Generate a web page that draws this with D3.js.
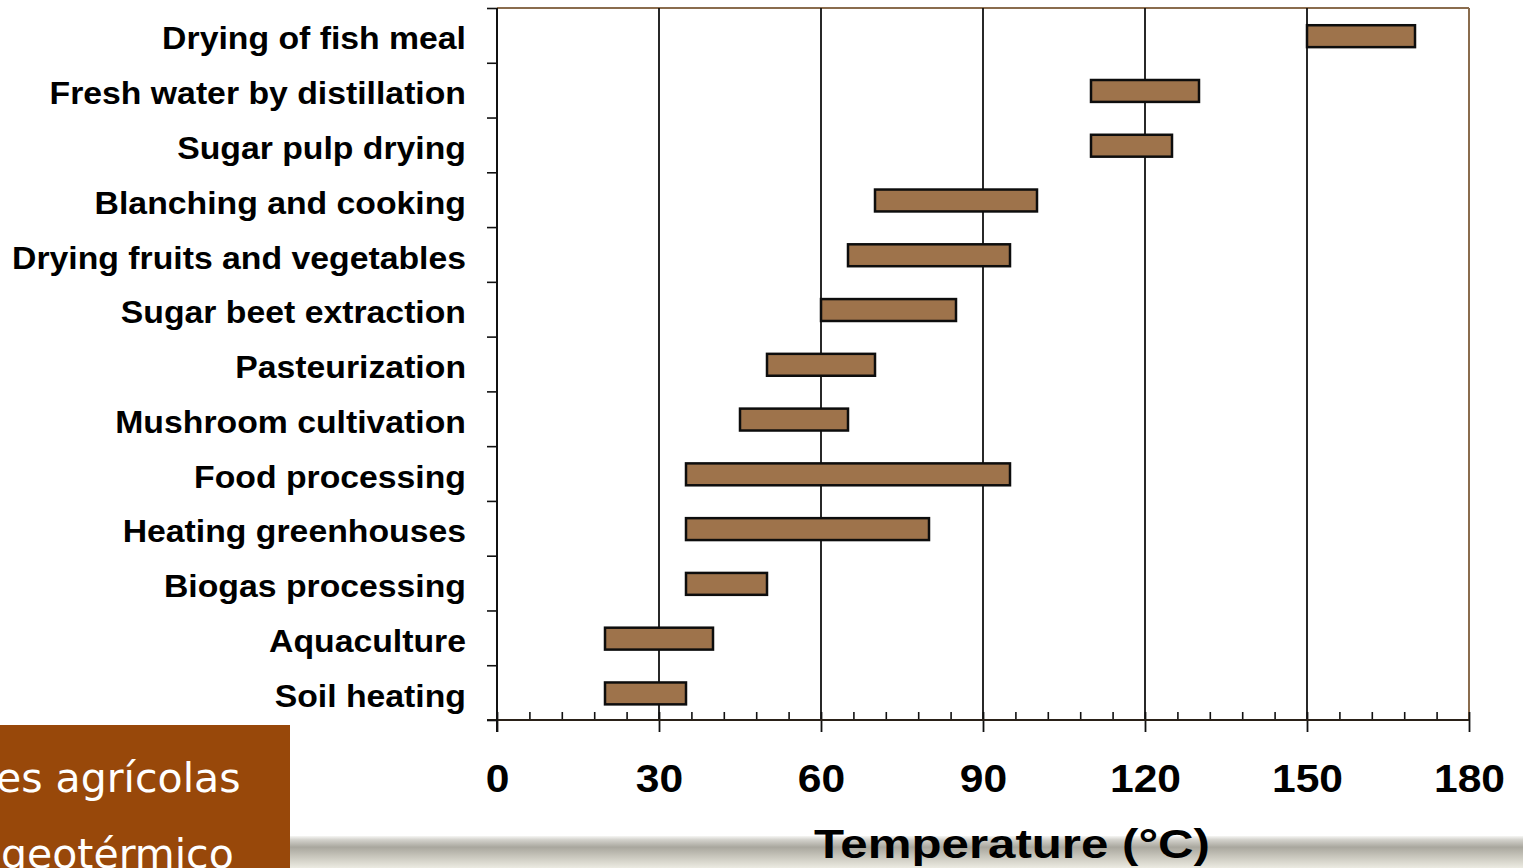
<!DOCTYPE html>
<html>
<head>
<meta charset="utf-8">
<script src="https://cdn.jsdelivr.net/npm/d3@7"></script>
<style>
  html, body { margin: 0; padding: 0; background: #ffffff; overflow: hidden; }
  svg { display: block; }
</style>
</head>
<body>
<svg id="chart" width="1523" height="868"></svg>
<script>
// Geothermal direct-use applications and their temperature ranges (°C)
const categories = [
  "Drying of fish meal",
  "Fresh water by distillation",
  "Sugar pulp drying",
  "Blanching and cooking",
  "Drying fruits and vegetables",
  "Sugar beet extraction",
  "Pasteurization",
  "Mushroom cultivation",
  "Food processing",
  "Heating greenhouses",
  "Biogas processing",
  "Aquaculture",
  "Soil heating"
];
const lowTemps  = [150, 110, 110, 70, 65, 60, 50, 45, 35, 35, 35, 20, 20];
const highTemps = [170, 130, 125, 100, 95, 85, 70, 65, 95, 80, 50, 40, 35];
const majorTicks = [0, 30, 60, 90, 120, 150, 180];
const minorTicks = d3.range(0, 181, 6).filter(v => v % 30 !== 0);
const footerLines = ["es agrícolas", "geotérmico"];
const axisTitle = "Temperature (°C)";

const svg = d3.select("#chart");

const plot = { left: 497, right: 1469, top: 8, bottom: 720 };

const x = d3.scaleLinear().domain([0, 180]).range([plot.left, plot.right]);
const y = d3.scaleBand().domain(categories).range([plot.top, plot.bottom]).padding(0);
const yEdge = d3.scaleLinear().domain([0, categories.length]).range([plot.top, plot.bottom]);

// horizontally widen a text node by a factor
function stretch(sel, k) {
  sel.each(function () {
    const w = this.getComputedTextLength();
    d3.select(this).attr("textLength", w * k).attr("lengthAdjust", "spacingAndGlyphs");
  });
}

// footer band with gradient
const defs = svg.append("defs");
const grad = defs.append("linearGradient").attr("id", "band").attr("x1", 0).attr("y1", 0).attr("x2", 0).attr("y2", 1);
[["0%", "#f6f6f4"], ["12%", "#d2d1cb"], ["35%", "#a9a79e"], ["62%", "#c6c4ba"], ["100%", "#ecebe2"]]
  .forEach(([o, c]) => grad.append("stop").attr("offset", o).attr("stop-color", c));
svg.append("rect").attr("x", 290).attr("y", 836).attr("width", 1233).attr("height", 32).attr("fill", "url(#band)");

// plot frame: top and right edges
svg.append("line").attr("x1", plot.left).attr("x2", plot.right).attr("y1", plot.top).attr("y2", plot.top)
  .attr("stroke", "#8a6c4e").attr("stroke-width", 2);
svg.append("line").attr("x1", plot.right).attr("x2", plot.right).attr("y1", plot.top).attr("y2", plot.bottom)
  .attr("stroke", "#8a6c4e").attr("stroke-width", 2);

// vertical gridlines at major ticks
svg.append("g").selectAll("line")
  .data(majorTicks.filter(v => v > 0 && v < 180))
  .join("line")
  .attr("x1", d => x(d)).attr("x2", d => x(d))
  .attr("y1", plot.top).attr("y2", plot.bottom)
  .attr("stroke", "#111").attr("stroke-width", 1.8);

// minor ticks pointing up into the plot
const minorAxis = svg.append("g").attr("transform", `translate(0,${plot.bottom})`)
  .call(d3.axisBottom(x).tickValues(minorTicks).tickSize(-8).tickFormat(""));
minorAxis.select(".domain").remove();
minorAxis.selectAll("line").attr("stroke", "#111").attr("stroke-width", 1.6);

// x axis with major ticks below
const xAxis = svg.append("g").attr("transform", `translate(0,${plot.bottom})`)
  .call(d3.axisBottom(x).tickValues(majorTicks).tickSize(12).tickPadding(33).tickSizeOuter(0));
xAxis.select(".domain").remove();
xAxis.selectAll(".tick line").attr("stroke", "#111").attr("stroke-width", 1.8).attr("y1", -8);
xAxis.selectAll(".tick text")
  .attr("fill", "#000")
  .style("font-family", "'Liberation Sans', Arial, sans-serif")
  .style("font-weight", "bold")
  .style("font-size", "38px")
  .call(stretch, 1.12);
svg.append("line").attr("x1", plot.left - 10).attr("x2", plot.right).attr("y1", plot.bottom).attr("y2", plot.bottom)
  .attr("stroke", "#2a2118").attr("stroke-width", 2);

// y axis with ticks at category boundaries
const yAxis = svg.append("g").attr("transform", `translate(${plot.left},0)`)
  .call(d3.axisLeft(yEdge).tickValues(d3.range(0, categories.length + 1)).tickSize(10).tickFormat("").tickSizeOuter(0));
yAxis.select(".domain").remove();
yAxis.selectAll("line").attr("stroke", "#111").attr("stroke-width", 1.6);
svg.append("line").attr("x1", plot.left).attr("x2", plot.left).attr("y1", plot.top).attr("y2", plot.bottom + 12)
  .attr("stroke", "#111").attr("stroke-width", 2);

// category labels
svg.append("g").selectAll("text")
  .data(categories)
  .join("text")
  .attr("x", plot.left - 31)
  .attr("y", d => y(d) + y.bandwidth() / 2)
  .attr("dy", "0.44em")
  .attr("text-anchor", "end")
  .attr("fill", "#000")
  .style("font-family", "'Liberation Sans', Arial, sans-serif")
  .style("font-weight", "bold")
  .style("font-size", "32px")
  .text(d => d)
  .call(stretch, 1.055);

// temperature range bars
const barH = y.bandwidth() * 0.4;
svg.append("g").selectAll("rect")
  .data(categories.map((c, i) => ({ c, lo: lowTemps[i], hi: highTemps[i] })))
  .join("rect")
  .attr("x", d => x(d.lo))
  .attr("width", d => x(d.hi) - x(d.lo))
  .attr("y", d => y(d.c) + (y.bandwidth() - barH) / 2 + 0.8)
  .attr("height", barH)
  .attr("fill", "#9e734b")
  .attr("stroke", "#0d0d0d")
  .attr("stroke-width", 2.5);

// axis title
svg.append("text")
  .attr("x", 1012).attr("y", 858)
  .attr("text-anchor", "middle")
  .attr("fill", "#000")
  .style("font-family", "'Liberation Sans', Arial, sans-serif")
  .style("font-weight", "bold")
  .style("font-size", "41px")
  .text(axisTitle)
  .call(stretch, 1.2);

// footer caption box
svg.append("rect").attr("x", 0).attr("y", 725).attr("width", 290).attr("height", 143).attr("fill", "#98480a");
svg.append("g").selectAll("text")
  .data(footerLines)
  .join("text")
  .attr("x", (d, i) => i === 0 ? -4 : 1)
  .attr("y", (d, i) => i === 0 ? 792 : 868)
  .attr("fill", "#ffffff")
  .style("font-family", "'DejaVu Sans', Verdana, sans-serif")
  .style("font-size", "41px")
  .text(d => d);
</script>
</body>
</html>
